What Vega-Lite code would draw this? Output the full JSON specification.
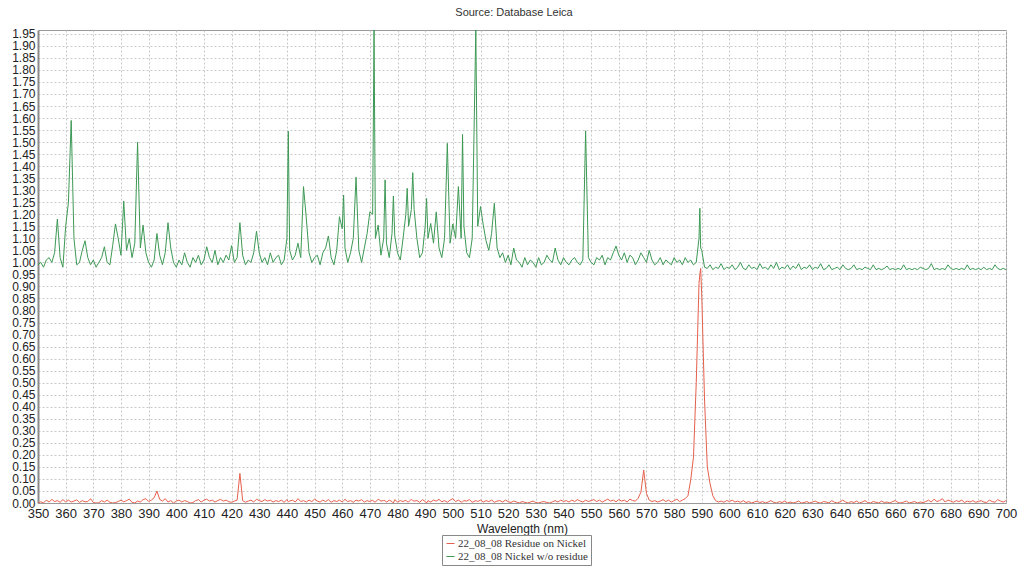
{
"$schema": "https://vega.github.io/schema/vega-lite/v6.json",
"width": 968, "height": 473,
"autosize": {"type": "none"},
"padding": {"left": 38, "top": 30, "right": 24, "bottom": 70},
"background": "white",
"title": {"text": "Source: Database Leica", "fontSize": 11, "font": "Liberation Sans", "fontWeight": "normal", "color": "#333", "offset": 10, "anchor": "middle", "dx": -8},
"data": {"values": [
{"w":350,"g":0.99,"r":0.0},{"w":351,"g":1.00,"r":0.005},{"w":352,"g":0.98,"r":0.0},{"w":353,"g":1.01,"r":0.012},{"w":354,"g":1.02,"r":0.004},{"w":355,"g":1.00,"r":0.015},{"w":356,"g":1.04,"r":0.006},{"w":357,"g":1.18,"r":0.010},{"w":358,"g":1.02,"r":0.003},{"w":359,"g":0.98,"r":0.014},{"w":360,"g":1.15,"r":0.005},
{"w":361,"g":1.25,"r":0.012},{"w":362,"g":1.59,"r":0.004},{"w":363,"g":1.10,"r":0.008},{"w":364,"g":0.99,"r":0.013},{"w":365,"g":1.00,"r":0.002},{"w":366,"g":1.05,"r":0.010},{"w":367,"g":1.09,"r":0.005},{"w":368,"g":1.02,"r":0.006},{"w":369,"g":0.99,"r":0.018},{"w":370,"g":1.01,"r":0.002},
{"w":371,"g":0.98,"r":0.0},{"w":372,"g":1.00,"r":0.001},{"w":373,"g":1.02,"r":0.010},{"w":374,"g":1.065,"r":0.004},{"w":375,"g":1.00,"r":0.012},{"w":376,"g":0.99,"r":0.003},{"w":377,"g":1.07,"r":0.0},{"w":378,"g":1.16,"r":0.002},{"w":379,"g":1.10,"r":0.006},{"w":380,"g":1.03,"r":0.012},
{"w":381,"g":1.255,"r":0.005},{"w":382,"g":1.05,"r":0.010},{"w":383,"g":1.10,"r":0.016},{"w":384,"g":1.02,"r":0.003},{"w":385,"g":1.08,"r":0.0},{"w":386,"g":1.50,"r":0.008},{"w":387,"g":1.06,"r":0.004},{"w":388,"g":1.155,"r":0.014},{"w":389,"g":1.04,"r":0.018},{"w":390,"g":1.00,"r":0.006},
{"w":391,"g":0.98,"r":0.012},{"w":392,"g":1.01,"r":0.022},{"w":393,"g":1.12,"r":0.050},{"w":394,"g":1.03,"r":0.015},{"w":395,"g":0.99,"r":0.008},{"w":396,"g":1.04,"r":0.018},{"w":397,"g":1.165,"r":0.004},{"w":398,"g":1.06,"r":0.010},{"w":399,"g":1.00,"r":0.0},{"w":400,"g":0.98,"r":0.008},
{"w":401,"g":1.01,"r":0.012},{"w":402,"g":0.99,"r":0.004},{"w":403,"g":1.04,"r":0.010},{"w":404,"g":1.00,"r":0.006},{"w":405,"g":0.98,"r":0.0},{"w":406,"g":1.02,"r":0.002},{"w":407,"g":1.00,"r":0.010},{"w":408,"g":1.03,"r":0.014},{"w":409,"g":0.99,"r":0.004},{"w":410,"g":1.01,"r":0.012},
{"w":411,"g":1.065,"r":0.016},{"w":412,"g":1.02,"r":0.008},{"w":413,"g":1.00,"r":0.012},{"w":414,"g":1.05,"r":0.004},{"w":415,"g":0.99,"r":0.010},{"w":416,"g":1.02,"r":0.015},{"w":417,"g":1.00,"r":0.008},{"w":418,"g":1.03,"r":0.012},{"w":419,"g":1.01,"r":0.005},{"w":420,"g":1.07,"r":0.003},
{"w":421,"g":1.00,"r":0.008},{"w":422,"g":1.02,"r":0.012},{"w":423,"g":1.165,"r":0.123},{"w":424,"g":1.03,"r":0.010},{"w":425,"g":0.99,"r":0.003},{"w":426,"g":1.01,"r":0.008},{"w":427,"g":1.00,"r":0.012},{"w":428,"g":1.04,"r":0.004},{"w":429,"g":1.13,"r":0.016},{"w":430,"g":1.04,"r":0.010},
{"w":431,"g":1.00,"r":0.006},{"w":432,"g":1.02,"r":0.014},{"w":433,"g":0.99,"r":0.008},{"w":434,"g":1.04,"r":0.012},{"w":435,"g":1.00,"r":0.004},{"w":436,"g":1.02,"r":0.010},{"w":437,"g":1.03,"r":0.006},{"w":438,"g":0.99,"r":0.012},{"w":439,"g":1.01,"r":0.003},{"w":440,"g":1.10,"r":0.014},
{"w":440.5,"g":1.545,"r":0.005},
{"w":441,"g":1.05,"r":0.008},{"w":442,"g":1.01,"r":0.012},{"w":443,"g":1.03,"r":0.004},{"w":444,"g":1.08,"r":0.018},{"w":445,"g":1.02,"r":0.006},{"w":446,"g":1.315,"r":0.010},{"w":447,"g":1.185,"r":0.004},{"w":448,"g":1.04,"r":0.012},{"w":449,"g":1.00,"r":0.006},{"w":450,"g":1.02,"r":0.016},
{"w":451,"g":1.03,"r":0.008},{"w":452,"g":0.99,"r":0.004},{"w":453,"g":1.04,"r":0.012},{"w":454,"g":1.06,"r":0.006},{"w":455,"g":1.11,"r":0.014},{"w":456,"g":1.02,"r":0.003},{"w":457,"g":0.99,"r":0.010},{"w":458,"g":1.05,"r":0.006},{"w":459,"g":1.19,"r":0.012},{"w":460,"g":1.14,"r":0.004},
{"w":460.5,"g":1.28,"r":0.010},
{"w":461,"g":1.06,"r":0.015},{"w":462,"g":1.00,"r":0.006},{"w":463,"g":1.04,"r":0.010},{"w":464,"g":1.10,"r":0.003},{"w":465,"g":1.354,"r":0.012},{"w":466,"g":1.05,"r":0.008},{"w":467,"g":1.00,"r":0.014},{"w":468,"g":1.06,"r":0.004},{"w":469,"g":1.12,"r":0.010},{"w":470,"g":1.21,"r":0.006},
{"w":471,"g":1.20,"r":0.012},{"w":471.5,"g":1.97,"r":0.005},
{"w":472,"g":1.10,"r":0.004},{"w":473,"g":1.155,"r":0.016},{"w":474,"g":1.03,"r":0.008},{"w":475,"g":1.10,"r":0.010},{"w":475.5,"g":1.343,"r":0.010},{"w":476,"g":1.08,"r":0.003},{"w":477,"g":1.02,"r":0.012},{"w":478,"g":1.12,"r":0.006},{"w":478.5,"g":1.276,"r":0.0},{"w":479,"g":1.11,"r":0.014},{"w":480,"g":1.04,"r":0.004},
{"w":481,"g":1.01,"r":0.010},{"w":482,"g":1.10,"r":0.006},{"w":483,"g":1.20,"r":0.012},{"w":483.5,"g":1.308,"r":0.005},{"w":484,"g":1.15,"r":0.004},{"w":485,"g":1.22,"r":0.016},{"w":485.5,"g":1.373,"r":0.010},{"w":486,"g":1.22,"r":0.008},{"w":487,"g":1.10,"r":0.010},{"w":488,"g":1.02,"r":0.003},{"w":489,"g":1.04,"r":0.014},{"w":490,"g":1.15,"r":0.006},
{"w":490.5,"g":1.266,"r":0.0},
{"w":491,"g":1.10,"r":0.010},{"w":492,"g":1.162,"r":0.004},{"w":493,"g":1.08,"r":0.012},{"w":494,"g":1.21,"r":0.008},{"w":495,"g":1.06,"r":0.015},{"w":496,"g":1.02,"r":0.005},{"w":497,"g":1.10,"r":0.010},{"w":498,"g":1.495,"r":0.003},{"w":499,"g":1.08,"r":0.012},{"w":500,"g":1.16,"r":0.018},
{"w":501,"g":1.10,"r":0.006},{"w":502,"g":1.315,"r":0.012},{"w":503,"g":1.10,"r":0.004},{"w":503.5,"g":1.532,"r":0.005},{"w":504,"g":1.15,"r":0.010},{"w":505,"g":1.04,"r":0.008},{"w":506,"g":1.02,"r":0.014},{"w":507,"g":1.10,"r":0.003},{"w":508.3,"g":1.97,"r":0.010},{"w":509,"g":1.15,"r":0.006},{"w":510,"g":1.232,"r":0.012},
{"w":511,"g":1.155,"r":0.004},{"w":512,"g":1.09,"r":0.010},{"w":513,"g":1.05,"r":0.006},{"w":514,"g":1.12,"r":0.012},{"w":515,"g":1.246,"r":0.003},{"w":516,"g":1.06,"r":0.008},{"w":517,"g":1.02,"r":0.010},{"w":518,"g":1.04,"r":0.004},{"w":519,"g":1.00,"r":0.012},{"w":520,"g":1.03,"r":0.006},
{"w":521,"g":0.99,"r":0.002},{"w":522,"g":1.06,"r":0.008},{"w":523,"g":1.01,"r":0.004},{"w":524,"g":1.00,"r":0.0},{"w":525,"g":0.98,"r":0.006},{"w":526,"g":1.02,"r":0.003},{"w":527,"g":0.99,"r":0.0},{"w":528,"g":1.01,"r":0.004},{"w":529,"g":1.00,"r":0.008},{"w":530,"g":0.98,"r":0.002},
{"w":531,"g":1.02,"r":0.0},{"w":532,"g":0.99,"r":0.004},{"w":533,"g":1.00,"r":0.006},{"w":534,"g":1.03,"r":0.002},{"w":535,"g":1.01,"r":0.0},{"w":536,"g":1.00,"r":0.005},{"w":537,"g":1.06,"r":0.010},{"w":538,"g":1.01,"r":0.004},{"w":539,"g":0.99,"r":0.012},{"w":540,"g":1.02,"r":0.006},
{"w":541,"g":1.00,"r":0.010},{"w":542,"g":0.99,"r":0.004},{"w":543,"g":1.01,"r":0.012},{"w":544,"g":1.02,"r":0.006},{"w":545,"g":1.00,"r":0.014},{"w":546,"g":0.99,"r":0.008},{"w":547,"g":1.01,"r":0.004},{"w":548,"g":1.547,"r":0.012},{"w":549,"g":1.02,"r":0.006},{"w":550,"g":1.00,"r":0.010},
{"w":551,"g":0.99,"r":0.014},{"w":552,"g":1.02,"r":0.006},{"w":553,"g":1.01,"r":0.012},{"w":554,"g":1.03,"r":0.004},{"w":555,"g":0.99,"r":0.010},{"w":556,"g":1.02,"r":0.016},{"w":557,"g":1.01,"r":0.008},{"w":558,"g":1.04,"r":0.012},{"w":559,"g":1.068,"r":0.005},{"w":560,"g":1.03,"r":0.014},
{"w":561,"g":1.01,"r":0.008},{"w":562,"g":1.04,"r":0.012},{"w":563,"g":1.00,"r":0.004},{"w":564,"g":1.03,"r":0.016},{"w":565,"g":1.02,"r":0.010},{"w":566,"g":0.99,"r":0.008},{"w":567,"g":1.01,"r":0.020},{"w":568,"g":1.04,"r":0.045},{"w":569,"g":1.02,"r":0.137},{"w":570,"g":1.00,"r":0.040},
{"w":571,"g":1.05,"r":0.012},{"w":572,"g":1.01,"r":0.006},{"w":573,"g":0.99,"r":0.010},{"w":574,"g":1.00,"r":0.004},{"w":575,"g":1.02,"r":0.008},{"w":576,"g":0.99,"r":0.014},{"w":577,"g":1.01,"r":0.006},{"w":578,"g":1.00,"r":0.012},{"w":579,"g":0.99,"r":0.004},{"w":580,"g":1.02,"r":0.010},
{"w":581,"g":1.00,"r":0.016},{"w":582,"g":1.01,"r":0.006},{"w":583,"g":0.99,"r":0.012},{"w":584,"g":1.02,"r":0.018},{"w":585,"g":1.00,"r":0.030},{"w":586,"g":1.01,"r":0.096},{"w":587,"g":0.99,"r":0.190},{"w":588,"g":1.00,"r":0.500},{"w":589,"g":1.10,"r":0.913},{"w":589.3,"g":1.225,"r":0.950},{"w":589.6,"g":1.06,"r":0.975},{"w":590,"g":1.05,"r":0.860},
{"w":591,"g":0.98,"r":0.428},{"w":592,"g":0.975,"r":0.150},{"w":593,"g":0.99,"r":0.080},{"w":594,"g":0.97,"r":0.030},{"w":595,"g":0.98,"r":0.010},{"w":596,"g":0.975,"r":0.004},{"w":597,"g":0.995,"r":0.008},{"w":598,"g":0.97,"r":0.003},{"w":599,"g":0.98,"r":0.010},{"w":600,"g":0.975,"r":0.006},
{"w":601,"g":0.99,"r":0.012},{"w":602,"g":0.97,"r":0.004},{"w":603,"g":0.98,"r":0.008},{"w":604,"g":1.00,"r":0.003},{"w":605,"g":0.975,"r":0.010},{"w":606,"g":0.97,"r":0.002},{"w":607,"g":0.99,"r":0.006},{"w":608,"g":0.975,"r":0.0},{"w":609,"g":0.98,"r":0.004},{"w":610,"g":0.97,"r":0.008},
{"w":611,"g":0.995,"r":0.002},{"w":612,"g":0.975,"r":0.006},{"w":613,"g":0.98,"r":0.0},{"w":614,"g":0.97,"r":0.004},{"w":615,"g":0.99,"r":0.010},{"w":616,"g":0.975,"r":0.003},{"w":617,"g":1.00,"r":0.0},{"w":618,"g":0.97,"r":0.006},{"w":619,"g":0.98,"r":0.002},{"w":620,"g":0.975,"r":0.008},
{"w":621,"g":0.99,"r":0.0},{"w":622,"g":0.97,"r":0.004},{"w":623,"g":0.985,"r":0.0},{"w":624,"g":0.975,"r":0.003},{"w":625,"g":0.995,"r":0.008},{"w":626,"g":0.97,"r":0.0},{"w":627,"g":0.98,"r":0.002},{"w":628,"g":0.975,"r":0.006},{"w":629,"g":0.99,"r":0.0},{"w":630,"g":0.97,"r":0.004},
{"w":631,"g":0.98,"r":0.008},{"w":632,"g":0.975,"r":0.002},{"w":633,"g":0.995,"r":0.0},{"w":634,"g":0.97,"r":0.006},{"w":635,"g":0.975,"r":0.004},{"w":636,"g":0.99,"r":0.0},{"w":637,"g":0.97,"r":0.010},{"w":638,"g":0.975,"r":0.003},{"w":639,"g":0.98,"r":0.0},{"w":640,"g":0.97,"r":0.005},
{"w":641,"g":0.99,"r":0.012},{"w":642,"g":0.975,"r":0.004},{"w":643,"g":0.97,"r":0.0},{"w":644,"g":0.975,"r":0.006},{"w":645,"g":0.99,"r":0.002},{"w":646,"g":0.97,"r":0.008},{"w":647,"g":0.975,"r":0.0},{"w":648,"g":0.97,"r":0.004},{"w":649,"g":0.98,"r":0.010},{"w":650,"g":0.975,"r":0.002},
{"w":651,"g":0.97,"r":0.0},{"w":652,"g":0.99,"r":0.006},{"w":653,"g":0.97,"r":0.003},{"w":654,"g":0.975,"r":0.0},{"w":655,"g":0.97,"r":0.008},{"w":656,"g":0.975,"r":0.002},{"w":657,"g":0.985,"r":0.004},{"w":658,"g":0.97,"r":0.0},{"w":659,"g":0.975,"r":0.006},{"w":660,"g":0.97,"r":0.010},
{"w":661,"g":0.975,"r":0.002},{"w":662,"g":0.97,"r":0.0},{"w":663,"g":0.99,"r":0.004},{"w":664,"g":0.97,"r":0.008},{"w":665,"g":0.975,"r":0.0},{"w":666,"g":0.97,"r":0.003},{"w":667,"g":0.975,"r":0.006},{"w":668,"g":0.97,"r":0.0},{"w":669,"g":0.98,"r":0.004},{"w":670,"g":0.975,"r":0.002},
{"w":671,"g":0.97,"r":0.006},{"w":672,"g":0.975,"r":0.012},{"w":673,"g":0.995,"r":0.004},{"w":674,"g":0.97,"r":0.016},{"w":675,"g":0.975,"r":0.006},{"w":676,"g":0.97,"r":0.010},{"w":677,"g":0.975,"r":0.018},{"w":678,"g":0.97,"r":0.004},{"w":679,"g":0.99,"r":0.012},{"w":680,"g":0.975,"r":0.008},
{"w":681,"g":0.97,"r":0.003},{"w":682,"g":0.975,"r":0.010},{"w":683,"g":0.97,"r":0.006},{"w":684,"g":0.975,"r":0.012},{"w":685,"g":0.97,"r":0.002},{"w":686,"g":0.99,"r":0.008},{"w":687,"g":0.97,"r":0.004},{"w":688,"g":0.975,"r":0.010},{"w":689,"g":0.97,"r":0.003},{"w":690,"g":0.975,"r":0.006},
{"w":691,"g":0.97,"r":0.010},{"w":692,"g":0.98,"r":0.004},{"w":693,"g":0.97,"r":0.002},{"w":694,"g":0.975,"r":0.012},{"w":695,"g":0.97,"r":0.006},{"w":696,"g":0.99,"r":0.003},{"w":697,"g":0.975,"r":0.014},{"w":698,"g":0.97,"r":0.008},{"w":699,"g":0.975,"r":0.004},{"w":700,"g":0.97,"r":0.010}
]},
"transform": [{"fold": ["r", "g"], "as": ["s", "v"]}],
"mark": {"type": "line", "strokeWidth": 1, "clip": true},
"encoding": {
  "x": {"field": "w", "type": "quantitative",
        "scale": {"domain": [350, 700], "nice": false, "zero": false},
        "axis": {"values": [350,360,370,380,390,400,410,420,430,440,450,460,470,480,490,500,510,520,530,540,550,560,570,580,590,600,610,620,630,640,650,660,670,680,690,700],
                 "title": "Wavelength (nm)", "labelFont": "Liberation Sans", "labelFontSize": 13, "labelColor": "#222",
                 "ticks": false, "labelPadding": 4, "labelFlush": false, "labelOverlap": false,
                 "titleFont": "Liberation Sans", "titleFontSize": 12, "titleFontWeight": "normal", "titleColor": "#222", "titlePadding": 3,
                 "gridDash": [2, 2], "gridColor": "#c8c8c8", "domainColor": "#999"}},
  "y": {"field": "v", "type": "quantitative",
        "scale": {"domain": [0, 1.966], "nice": false},
        "axis": {"values": [0,0.05,0.1,0.15,0.2,0.25,0.3,0.35,0.4,0.45,0.5,0.55,0.6,0.65,0.7,0.75,0.8,0.85,0.9,0.95,1,1.05,1.1,1.15,1.2,1.25,1.3,1.35,1.4,1.45,1.5,1.55,1.6,1.65,1.7,1.75,1.8,1.85,1.9,1.95],
                 "format": ".2f", "title": null, "labelFont": "Liberation Sans", "labelFontSize": 12, "labelColor": "#222",
                 "ticks": false, "labelPadding": 3, "labelFlush": false, "labelOverlap": false,
                 "gridDash": [2, 2], "gridColor": "#c8c8c8", "domainColor": "#8a8a8a", "domainWidth": 2}},
  "color": {"field": "s", "type": "nominal",
            "scale": {"domain": ["r", "g"], "range": ["#e5604c", "#3d9955"]},
            "legend": {"orient": "none", "legendX": 404, "legendY": 505, "title": null,
                       "labelExpr": "datum.value == 'r' ? '22_08_08 Residue on Nickel' : '22_08_08 Nickel w/o residue'",
                       "symbolType": "stroke", "symbolSize": 64, "symbolStrokeWidth": 1,
                       "labelFont": "Liberation Serif", "labelFontSize": 11, "labelColor": "#333",
                       "strokeColor": "#888", "fillColor": "white", "padding": 3, "rowPadding": 1, "labelOffset": 2}}
},
"config": {"view": {"stroke": "#999", "strokeWidth": 1}}
}
